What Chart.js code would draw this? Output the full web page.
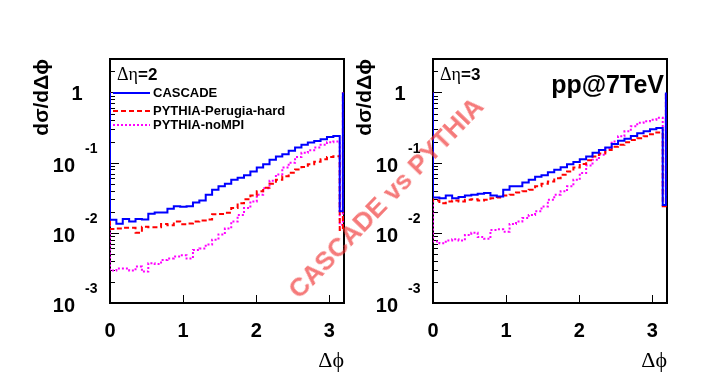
<!DOCTYPE html>
<html><head><meta charset="utf-8">
<script src="https://cdn.jsdelivr.net/npm/chart.js@4.4.1/dist/chart.umd.min.js"></script>
<style>
html,body{margin:0;padding:0;background:#fff;}
#wrap{position:relative;width:708px;height:374px;overflow:hidden;background:#fff;}
canvas{position:absolute;left:0;top:0;}
#wm{position:absolute;left:386px;top:198px;transform:translate(-50%,-50%) rotate(-46deg);font:bold 26px "Liberation Sans",Arial,sans-serif;color:rgba(240,50,50,0.65);white-space:nowrap;pointer-events:none;}
</style></head><body>
<div id="wrap">
<canvas id="c1" width="708" height="374"></canvas>
<canvas id="c2" width="708" height="374"></canvas>
<div id="wm">CASCADE vs PYTHIA</div>
</div>
<script>
// ---- data ----
const NBINS = 36;                       // bins over 0..pi
const xTickValues = [0, 1, 2, 3];
const yDecades = [1e-3, 1e-2, 1e-1, 1];
const seriesNames = ['CASCADE', 'PYTHIA-Perugia-hard', 'PYTHIA-noMPI'];
const panelLabels = ['\u0394\u03b7', '\u0394\u03b7'];
const panelSuffix = ['=2', '=3'];
const energyLabel = 'pp@7TeV';

const EDGE_VALUE = 1;      // out-of-range bins drawn at the frame edges
const OVER_X = 3.185;

const cascadeDeta2 = [0.0153,0.0135,0.0157,0.0145,0.0157,0.0155,0.0187,0.0195,0.0195,0.022,0.024,0.0235,0.024,0.027,0.029,0.035,0.041,0.046,0.050,0.057,0.061,0.066,0.075,0.085,0.095,0.110,0.122,0.132,0.148,0.165,0.180,0.193,0.203,0.215,0.232,0.240];
const perugiaDeta2 = [0.0113,0.0115,0.0118,0.0118,0.0100,0.0122,0.0120,0.0120,0.0134,0.0128,0.0145,0.0133,0.0136,0.0145,0.0150,0.0155,0.0184,0.0186,0.0193,0.0226,0.0264,0.0300,0.034,0.039,0.044,0.050,0.057,0.064,0.072,0.080,0.087,0.095,0.103,0.112,0.120,0.123];
const noMpiDeta2   = [0.0029,0.0031,0.0031,0.0029,0.0033,0.0028,0.0037,0.0036,0.0041,0.0043,0.0046,0.0048,0.0043,0.0057,0.0060,0.0068,0.0080,0.0095,0.0115,0.0145,0.0180,0.0225,0.028,0.035,0.043,0.055,0.068,0.085,0.100,0.120,0.138,0.150,0.165,0.180,0.195,0.200];
const dropDeta2 = [0.0203, 0.011, 0.013];

const cascadeDeta3 = [0.032,0.031,0.034,0.031,0.0325,0.034,0.035,0.036,0.037,0.034,0.033,0.041,0.046,0.046,0.052,0.057,0.063,0.066,0.073,0.079,0.086,0.095,0.102,0.112,0.122,0.138,0.152,0.165,0.185,0.205,0.220,0.240,0.262,0.280,0.300,0.313];
const perugiaDeta3 = [0.029,0.0264,0.028,0.029,0.028,0.0295,0.030,0.029,0.0295,0.031,0.032,0.034,0.035,0.0377,0.039,0.041,0.046,0.050,0.054,0.060,0.067,0.075,0.085,0.096,0.108,0.122,0.135,0.152,0.168,0.180,0.195,0.210,0.222,0.238,0.255,0.270];
const noMpiDeta3   = [0.0075,0.0071,0.0078,0.0081,0.0078,0.0093,0.0100,0.0087,0.0082,0.0110,0.0112,0.0104,0.0134,0.0145,0.0162,0.0180,0.0203,0.0237,0.0295,0.035,0.039,0.046,0.057,0.071,0.091,0.110,0.130,0.160,0.200,0.238,0.280,0.330,0.370,0.390,0.410,0.435];
const dropDeta3 = [0.025, 0.024, 0.035];

// ---- styles ----
const STY = [
  {color:'#0000ff', dash:[]},
  {color:'#ff0000', dash:[5,3]},
  {color:'#ff00ff', dash:[2,2]}
];
const SANS = '"Liberation Sans", Arial, Helvetica, sans-serif';
const SERIF = '"Liberation Serif", "Times New Roman", serif';

function histPoints(vals, drop) {
  const pts = [{x:0, y:EDGE_VALUE}];
  vals.forEach((v, i) => pts.push({x: i * Math.PI / NBINS, y: v}));
  pts.push({x: Math.PI, y: vals[vals.length - 1]});
  pts.push({x: Math.PI, y: drop});
  pts.push({x: OVER_X, y: drop});
  pts.push({x: OVER_X, y: EDGE_VALUE});
  return pts;
}

function makeDatasets(arrs, drops) {
  return arrs.map((a, k) => ({
    label: seriesNames[k],
    data: histPoints(a, drops[k]),
    borderColor: STY[k].color,
    borderDash: STY[k].dash,
    borderWidth: 2,
    pointRadius: 0,
    fill: false,
    stepped: true,
    tension: 0,
    borderCapStyle: 'butt'
  }));
}

const decoPlugin = {
  id: 'deco',
  beforeDatasetsDraw(chart, args, opts) {
    const {ctx, chartArea: a, scales: {x, y}} = chart;
    ctx.save();
    ctx.strokeStyle = '#000';
    ctx.lineWidth = 1;
    y.ticks.forEach(t => {
      const lg = Math.log10(t.value);
      const major = Math.abs(lg - Math.round(lg)) < 1e-9;
      const py = Math.round(y.getPixelForValue(t.value)) + 0.5;
      ctx.beginPath(); ctx.moveTo(a.left, py); ctx.lineTo(a.left + (major ? 9 : 5), py); ctx.stroke();
    });
    xTickValues.forEach(v => {
      const px = Math.round(x.getPixelForValue(v)) + 0.5;
      ctx.beginPath(); ctx.moveTo(px, a.bottom); ctx.lineTo(px, a.bottom - 8); ctx.stroke();
    });
    ctx.lineWidth = 2;
    ctx.strokeRect(a.left, a.top, a.right - a.left, a.bottom - a.top);
    ctx.restore();
  },
  afterDraw(chart, args, opts) {
    const {ctx, chartArea: a, scales: {y}} = chart;
    ctx.save();
    ctx.fillStyle = '#000';
    // y tick labels (ROOT style 10^n)
    yDecades.forEach(v => {
      const py = y.getPixelForValue(v);
      const e = Math.round(Math.log10(v));
      ctx.textBaseline = 'alphabetic';
      ctx.font = 'bold 20px ' + SANS;
      if (e === 0) {
        ctx.textAlign = 'center';
        ctx.fillText('1', a.left - 33, py + 8);
      } else {
        ctx.textAlign = 'right';
        ctx.fillText('10', a.left - 35, py + 9);
        ctx.font = 'bold 14px ' + SANS;
        ctx.textAlign = 'left';
        ctx.fillText(String(e), a.left - 25, py - 10);
      }
    });
    // panel label
    ctx.textAlign = 'left';
    ctx.textBaseline = 'alphabetic';
    ctx.font = '18px ' + SERIF;
    ctx.fillText(opts.label, a.left + 7, 80);
    const w = ctx.measureText(opts.label).width;
    ctx.font = 'bold 17px ' + SANS;
    ctx.fillText(opts.suffix, a.left + 7 + w, 80);
    // legend
    if (opts.legend) {
      const ys = [93, 111, 125];
      chart.data.datasets.forEach((ds, k) => {
        ctx.strokeStyle = ds.borderColor;
        ctx.lineWidth = 2;
        ctx.setLineDash(ds.borderDash);
        ctx.beginPath(); ctx.moveTo(a.left + 3, ys[k]); ctx.lineTo(a.left + 40, ys[k]); ctx.stroke();
        ctx.setLineDash([]);
        ctx.font = 'bold 13px ' + SANS;
        ctx.textBaseline = 'middle';
        ctx.fillStyle = '#000';
        ctx.fillText(ds.label, a.left + 43, ys[k]);
      });
    }
    if (opts.energy) {
      ctx.font = 'bold 25px ' + SANS;
      ctx.textAlign = 'right';
      ctx.textBaseline = 'alphabetic';
      ctx.fillText(opts.energy, a.right - 3, 93);
    }
    ctx.restore();
  }
};

function makeChart(id, datasets, padLeft, padRight, deco) {
  return new Chart(document.getElementById(id), {
    type: 'line',
    data: {datasets},
    plugins: [decoPlugin],
    options: {
      responsive: false,
      animation: false,
      devicePixelRatio: 1,
      layout: {padding: {left: padLeft, right: padRight, top: 59, bottom: 0}},
      plugins: {legend: {display: false}, tooltip: {enabled: false}, deco},
      scales: {
        x: {
          type: 'linear', min: 0, max: 3.2,
          afterBuildTicks: s => { s.ticks = xTickValues.map(v => ({value: v})); },
          afterFit: s => { s.height = 71; },
          grid: {display: false, drawTicks: false},
          border: {display: false},
          ticks: {
            font: {family: SANS, weight: 'bold', size: 20}, color: '#000',
            padding: 16, autoSkip: false, maxRotation: 0,
            callback: v => String(v)
          },
          title: {display: true, text: '\u0394\u03d5', align: 'end', color: '#000',
                  font: {family: SERIF, size: 22}, padding: {top: 0, bottom: 0}}
        },
        y: {
          type: 'logarithmic', min: 1e-3, max: 3,
          afterBuildTicks: s => {
            const t = [];
            for (let e = -3; e <= 0; e++) for (let k = 1; k <= 9; k++) {
              const v = k * Math.pow(10, e);
              if (v <= 3.0001) t.push({value: v});
            }
            s.ticks = t;
          },
          afterFit: s => { s.width = 80; },
          grid: {display: false, drawTicks: false},
          border: {display: false},
          ticks: {display: false},
          title: {display: true, text: 'd\u03c3/d\u0394\u03d5', align: 'end', color: '#000',
                  font: {family: SANS, weight: 'bold', size: 21}, padding: {top: 0, bottom: 0}}
        }
      }
    }
  });
}

makeChart('c1', makeDatasets([cascadeDeta2, perugiaDeta2, noMpiDeta2], dropDeta2), 30, 364,
  {label: panelLabels[0], suffix: panelSuffix[0], legend: true, energy: null});
makeChart('c2', makeDatasets([cascadeDeta3, perugiaDeta3, noMpiDeta3], dropDeta3), 353, 41,
  {label: panelLabels[1], suffix: panelSuffix[1], legend: false, energy: energyLabel});
</script>
</body></html>
